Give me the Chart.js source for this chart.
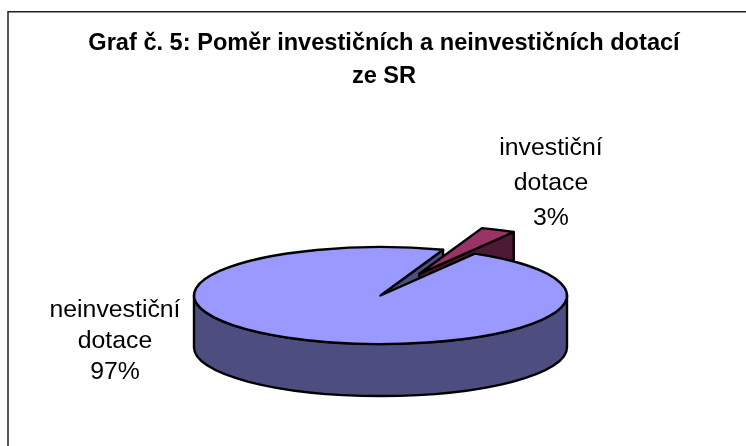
<!DOCTYPE html>
<html>
<head>
<meta charset="utf-8">
<style>
    html, body { margin: 0; padding: 0; background: #fff; }
    canvas { display: block; }
</style>
<script src="https://cdn.jsdelivr.net/npm/chart.js@4/dist/chart.umd.js"></script>
</head>
<body>
<canvas id="pieChart" width="746" height="446"></canvas>
<script>
const categories = [['neinvestiční', 'dotace'], ['investiční', 'dotace']];
const values = [97, 3];
const titleLines = ['Graf č. 5: Poměr investičních a neinvestičních dotací', 'ze SR'];

const topColors = ['#9999ff', '#993366'];
const sideColors = ['#4d4d80', '#4d1933'];
const explode = [0, 92];            // slice pulled out, in pie units before squashing
const labelPos = [[115, 310], [551, 148]];
const labelGap = [31, 35];

const pieCx = 380.5, pieCy = 295.5, squash = 0.26, depth = 52;

function slicePos(arc, i) {
    const mid = (arc.startAngle + arc.endAngle) / 2;
    return {
        x: pieCx + Math.cos(mid) * explode[i],
        y: pieCy + Math.sin(mid) * explode[i] * squash
    };
}

function outline(ctx) {
    ctx.lineWidth = 2.4;
    ctx.lineJoin = 'round';
    ctx.strokeStyle = '#000';
    ctx.stroke();
}

function drawSides(ctx, arc, i) {
    const p = slicePos(arc, i),
        r = arc.outerRadius,
        ry = r * squash;
    ctx.fillStyle = sideColors[i];

    // cut faces
    [[arc.endAngle, Math.cos(arc.endAngle) > 0], [arc.startAngle, Math.cos(arc.startAngle) < 0]].forEach(([a, visible]) => {
        if (!visible) return;
        const ex = p.x + Math.cos(a) * r,
            ey = p.y + Math.sin(a) * ry;
        ctx.beginPath();
        ctx.moveTo(p.x, p.y);
        ctx.lineTo(ex, ey);
        ctx.lineTo(ex, ey + depth);
        ctx.lineTo(p.x, p.y + depth);
        ctx.closePath();
        ctx.fill();
        outline(ctx);
    });

    // outer wall, only the part facing the viewer
    const lo = Math.max(arc.startAngle, 0),
        hi = Math.min(arc.endAngle, Math.PI);
    if (hi > lo) {
        ctx.beginPath();
        ctx.ellipse(p.x, p.y, r, ry, 0, lo, hi);
        ctx.ellipse(p.x, p.y + depth, r, ry, 0, hi, lo, true);
        ctx.closePath();
        ctx.fill();
        outline(ctx);
    }
}

function drawTop(ctx, arc, i) {
    const p = slicePos(arc, i);
    // the library draws the slice, squashed into an ellipse
    ctx.save();
    ctx.translate(p.x, p.y);
    ctx.scale(1, squash);
    ctx.translate(-arc.x, -arc.y);
    arc.draw(ctx);
    ctx.restore();

    ctx.beginPath();
    ctx.moveTo(p.x, p.y);
    ctx.ellipse(p.x, p.y, arc.outerRadius, arc.outerRadius * squash, 0, arc.startAngle, arc.endAngle);
    ctx.closePath();
    outline(ctx);
}

const pie3d = {
    id: 'pie3d',
    beforeDatasetDraw(chart, args) {
        const ctx = chart.ctx,
            arcs = args.meta.data;
        ctx.save();
        drawSides(ctx, arcs[0], 0);
        drawSides(ctx, arcs[1], 1);
        drawTop(ctx, arcs[1], 1);
        drawTop(ctx, arcs[0], 0);
        ctx.restore();
        return false;
    },
    afterDraw(chart) {
        const ctx = chart.ctx;
        ctx.save();
        // chart frame, cut off on the right and at the bottom
        ctx.strokeStyle = '#222';
        ctx.lineWidth = 1.5;
        ctx.beginPath();
        ctx.moveTo(8, 446);
        ctx.lineTo(8, 11.7);
        ctx.lineTo(746, 11.7);
        ctx.stroke();

        ctx.fillStyle = '#000';
        ctx.font = '24.8px "Liberation Sans"';
        ctx.textAlign = 'center';
        ctx.textBaseline = 'middle';
        categories.forEach((lines, i) => {
            [...lines, values[i] + '%'].forEach((text, k) => {
                ctx.fillText(text, labelPos[i][0], labelPos[i][1] + k * labelGap[i]);
            });
        });
        ctx.restore();
    }
};

new Chart(document.getElementById('pieChart').getContext('2d'), {
    type: 'pie',
    data: {
        labels: categories.map(c => c.join(' ')),
        datasets: [{
            data: values,
            backgroundColor: topColors,
            borderWidth: 0
        }]
    },
    options: {
        responsive: false,
        animation: false,
        rotation: 30.4,
        radius: 186.5,
        layout: { padding: { left: 22 } },
        plugins: {
            legend: { display: false },
            tooltip: { enabled: false },
            title: {
                display: true,
                text: titleLines,
                color: '#000',
                font: { family: '"Liberation Sans"', size: 23.6, weight: 'bold', lineHeight: 1.4 },
                padding: { top: 27, bottom: 0 }
            }
        }
    },
    plugins: [pie3d]
});
</script>
</body>
</html>
